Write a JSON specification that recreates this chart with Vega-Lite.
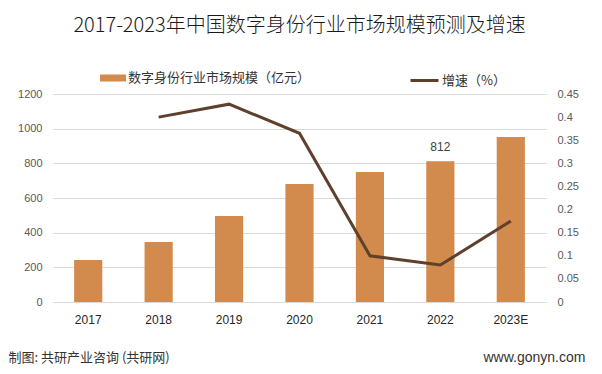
{
  "$schema": "https://vega.github.io/schema/vega-lite/v6.json",
  "width": 493,
  "height": 208,
  "autosize": {"type": "none"},
  "padding": {"left": 53, "top": 94, "right": 56, "bottom": 72},
  "background": "white",
  "title": {
    "text": "2017-2023年中国数字身份行业市场规模预测及增速",
    "font": "Noto Sans CJK SC",
    "fontSize": 20,
    "fontWeight": 300,
    "color": "#1a1a1a",
    "anchor": "middle",
    "baseline": "bottom",
    "offset": 9
  },
  "config": {"view": {"stroke": null}, "font": "Noto Sans CJK SC"},
  "data": {
    "values": [
      {"year": "2017", "size": 242},
      {"year": "2018", "size": 346, "rate": 0.40},
      {"year": "2019", "size": 496, "rate": 0.428},
      {"year": "2020", "size": 681, "rate": 0.365},
      {"year": "2021", "size": 750, "rate": 0.10},
      {"year": "2022", "size": 812, "rate": 0.08},
      {"year": "2023E", "size": 952, "rate": 0.175}
    ]
  },
  "encoding": {
    "x": {
      "field": "year",
      "type": "ordinal",
      "sort": null,
      "scale": {"paddingInner": 0.6, "paddingOuter": 0.3},
      "axis": {
        "title": "制图: 共研产业咨询 (共研网)",
        "titleX": -45,
        "titleY": 55,
        "titleAlign": "left",
        "titleAnchor": "start",
        "titleBaseline": "middle",
        "titleFont": "Noto Sans CJK SC",
        "titleFontSize": 13,
        "titleFontWeight": "normal",
        "titleColor": "#333333",
        "labelAngle": 0,
        "labelFont": "Liberation Sans",
        "labelFontSize": 12,
        "labelColor": "#262626",
        "labelPadding": 12,
        "domain": false,
        "ticks": false,
        "tickSize": 0
      }
    }
  },
  "layer": [
    {
      "encoding": {
        "y": {
          "field": "size",
          "type": "quantitative",
          "scale": {"domain": [0, 1200]},
          "axis": {
            "values": [0, 200, 400, 600, 800, 1000, 1200],
            "tickCount": 7,
            "format": "d",
            "labelOverlap": false,
            "title": null,
            "domain": false,
            "ticks": false,
            "tickSize": 0,
            "labelPadding": 11,
            "labelFont": "Liberation Sans",
            "labelFontSize": 11,
            "labelColor": "#595959",
            "grid": true,
            "gridColor": "#D9D9D9",
            "gridWidth": 1
          }
        }
      },
      "layer": [
        {
          "mark": {"type": "bar", "color": "#D28A4D"},
          "encoding": {
            "color": {
              "datum": "数字身份行业市场规模（亿元）",
              "scale": {"range": ["#D28A4D"]},
              "legend": {
                "orient": "none",
                "legendX": 47,
                "legendY": -29,
                "title": null,
                "padding": 0,
                "symbolType": "M-1,-0.27H1V0.27H-1Z",
                "symbolSize": 676,
                "symbolStrokeWidth": 0,
                "labelFont": "Noto Sans CJK SC",
                "labelFontSize": 13,
                "labelColor": "#333333",
                "labelOffset": 2,
                "labelLimit": 400
              }
            }
          }
        },
        {
          "transform": [{"filter": "datum.year === '2022'"}],
          "mark": {"type": "text", "baseline": "bottom", "dy": -7, "font": "Liberation Sans", "fontSize": 12, "color": "#404040"},
          "encoding": {
            "text": {"field": "size", "type": "quantitative"}
          }
        }
      ]
    },
    {
      "mark": {"type": "line", "strokeWidth": 3, "color": "#5E402C"},
      "encoding": {
        "y": {
          "field": "rate",
          "type": "quantitative",
          "scale": {"domain": [0, 0.45]},
          "axis": {
            "orient": "right",
            "values": [0, 0.05, 0.1, 0.15, 0.2, 0.25, 0.3, 0.35, 0.4, 0.45],
            "format": ".2~f",
            "labelOverlap": false,
            "grid": false,
            "domain": false,
            "ticks": false,
            "tickSize": 0,
            "labelPadding": 11,
            "labelFont": "Liberation Sans",
            "labelFontSize": 11,
            "labelColor": "#595959",
            "title": "www.gonyn.com",
            "titleAngle": 0,
            "titleX": -63,
            "titleY": 263,
            "titleAlign": "left",
            "titleBaseline": "middle",
            "titleFont": "Liberation Sans",
            "titleFontSize": 14,
            "titleFontWeight": "normal",
            "titleColor": "#333333"
          }
        },
        "color": {
          "datum": "增速（%）",
          "scale": {"range": ["#5E402C"]},
          "legend": {
            "orient": "none",
            "legendX": 356,
            "legendY": -29,
            "title": null,
            "padding": 0,
            "symbolType": "stroke",
            "symbolSize": 784,
            "symbolStrokeWidth": 3,
            "labelFont": "Noto Sans CJK SC",
            "labelFontSize": 13,
            "labelColor": "#333333",
            "labelOffset": 2,
            "labelLimit": 400
          }
        }
      }
    }
  ],
  "resolve": {"scale": {"y": "independent", "color": "independent"}}
}
